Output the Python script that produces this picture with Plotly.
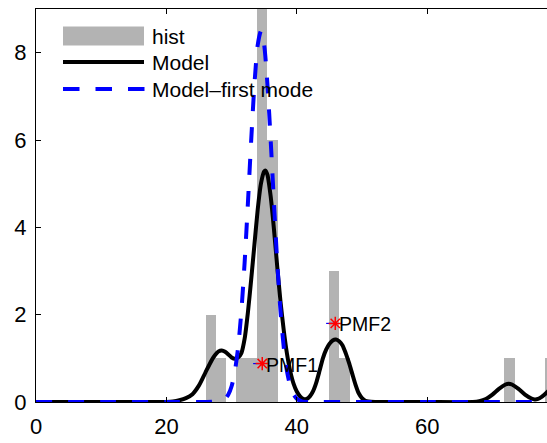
import plotly.graph_objects as go

# ---------------- data ----------------
hist_centers = [26.79, 28.37, 29.95, 31.53, 33.11, 34.69, 36.27, 45.75, 47.33, 72.61, 78.93]
hist_counts = [2, 1, 0, 1, 1, 9, 6, 3, 1, 1, 1]
bin_width = 1.58

model_x = [0, 10, 20, 21, 22, 23, 24, 25, 26, 27, 27.5, 28, 28.5, 29, 29.5, 30, 30.5, 31, 31.5,
           32, 32.5, 33, 33.5, 34, 34.5, 35, 35.2, 35.5, 36, 36.5, 37, 37.5, 38, 38.5, 39, 39.5,
           40, 40.5, 41, 41.5, 42, 42.5, 43, 43.5, 44, 44.5, 45, 45.5, 46, 46.5, 47, 47.5, 48,
           48.5, 49, 49.5, 50, 50.5, 51, 52, 60, 67, 68, 69, 70, 71, 72, 72.5, 73, 74, 75, 76,
           76.5, 77, 77.5, 78, 78.5, 79]
model_y = [0, 0, 0, 0.01, 0.04, 0.09, 0.18, 0.38, 0.68, 0.97, 1.08, 1.16, 1.18, 1.15, 1.09, 1.02,
           0.99, 1.02, 1.12, 1.45, 2.05, 2.8, 3.6, 4.4, 5.0, 5.28, 5.3, 5.2, 4.7, 3.95, 3.1, 2.3,
           1.64, 1.1, 0.7, 0.42, 0.24, 0.13, 0.07, 0.07, 0.13, 0.25, 0.45, 0.72, 1.0, 1.2, 1.33,
           1.41, 1.43, 1.39, 1.3, 1.12, 0.9, 0.65, 0.4, 0.2, 0.09, 0.03, 0.01, 0, 0, 0, 0.02,
           0.07, 0.17, 0.3, 0.4, 0.42, 0.4, 0.3, 0.17, 0.08, 0.06, 0.07, 0.11, 0.17, 0.24, 0.3]

first_x = [0, 10, 20, 27, 28, 29, 29.5, 30, 30.5, 31, 31.5, 32, 32.5, 33, 33.5, 34, 34.5, 35,
           35.5, 36, 36.5, 37, 37.5, 38, 38.5, 39, 39.5, 40, 40.5, 41, 42, 50, 60, 70, 79]
first_y = [0, 0, 0, 0.004, 0.03, 0.075, 0.17, 0.36, 0.7, 1.25, 2.08, 3.2, 4.55, 5.98, 7.27,
           8.17, 8.5, 8.17, 7.27, 5.98, 4.55, 3.2, 2.08, 1.25, 0.7, 0.36, 0.17, 0.075, 0.03,
           0.004, 0, 0, 0, 0, 0]

pmf_x = [34.7, 45.9]
pmf_y = [0.88, 1.8]
pmf_labels = ["PMF1", "PMF2"]

x_ticks = [0, 20, 40, 60]
y_ticks = [0, 2, 4, 6, 8]

legend_labels = ["hist", "Model", "Model\u2013first mode"]

GRAY = "#b3b3b3"
FONT = "Liberation Sans, Arial, Helvetica, sans-serif"

fig = go.Figure()
fig.add_trace(go.Bar(x=hist_centers, y=hist_counts, width=bin_width, name=legend_labels[0],
                     marker=dict(color=GRAY, line=dict(width=0)), showlegend=False))
fig.add_trace(go.Scatter(x=model_x, y=model_y, mode="lines", name=legend_labels[1],
                         line=dict(color="black", width=4, shape="spline", smoothing=0.6),
                         showlegend=False))
fig.add_trace(go.Scatter(x=first_x, y=first_y, mode="lines", name=legend_labels[2],
                         line=dict(color="#0000ff", width=4, dash="16px,16px", shape="spline",
                                   smoothing=0.6),
                         showlegend=False))
# small blue ticks left of each PMF star
for px_, py_ in zip(pmf_x, pmf_y):
    fig.add_trace(go.Scatter(x=[px_ - 1.4, px_], y=[py_, py_], mode="lines",
                             line=dict(color="#0000ff", width=1.2), showlegend=False,
                             hoverinfo="skip"))
fig.add_trace(go.Scatter(x=pmf_x, y=pmf_y, mode="markers", name="PMF",
                         marker=dict(symbol="asterisk-open", size=11, color="#ff0000",
                                     line=dict(color="#ff0000", width=1.5)),
                         showlegend=False))
for px_, py_, lab in zip(pmf_x, pmf_y, pmf_labels):
    fig.add_annotation(x=px_, y=py_, xref="x", yref="y", text=lab, showarrow=False,
                       xanchor="left", yanchor="middle", xshift=2, yshift=-1,
                       font=dict(family=FONT, size=19.5, color="black"))

# ---------------- manual legend (pixel layout converted to paper coords) ----------------
L, T, W, H = 36, 9, 511, 393
def px(x):
    return (x - L) / W
def py(y):
    return 1 - (y - T) / H

fig.add_shape(type="rect", xref="paper", yref="paper", x0=px(63), x1=px(144), y0=py(45.5),
              y1=py(26.5), fillcolor=GRAY, line=dict(width=0), layer="above")
fig.add_shape(type="line", xref="paper", yref="paper", x0=px(63), x1=px(144), y0=py(62),
              y1=py(62), line=dict(color="black", width=4), layer="above")
fig.add_shape(type="line", xref="paper", yref="paper", x0=px(63), x1=px(144.5), y0=py(89),
              y1=py(89), line=dict(color="#0000ff", width=4, dash="16.5px,16px"), layer="above")
for lab, yy in zip(legend_labels, [36, 62, 89]):
    fig.add_annotation(xref="paper", yref="paper", x=px(150), y=py(yy), text=lab,
                       showarrow=False, xanchor="left", yanchor="middle",
                       font=dict(family=FONT, size=21, color="black"))

fig.update_layout(
    width=547, height=443,
    margin=dict(l=L, r=0, t=T, b=41, autoexpand=False),
    paper_bgcolor="white", plot_bgcolor="white",
    font=dict(family=FONT, size=22, color="black"),
    bargap=0, showlegend=False,
)
fig.update_xaxes(range=[0, (547 - L) / 6.52], tickvals=x_ticks, ticks="inside", ticklen=5,
                 tickwidth=1, tickcolor="black", showline=True, linecolor="black", linewidth=1,
                 mirror="ticks", showgrid=False, zeroline=False, tickfont=dict(size=22),
                 ticklabelstandoff=5)
fig.update_yaxes(range=[0, 9], tickvals=y_ticks, ticks="inside", ticklen=5, tickwidth=1,
                 tickcolor="black", showline=True, linecolor="black", linewidth=1,
                 showgrid=False, zeroline=False, tickfont=dict(size=22), ticklabelstandoff=4)

fig.write_html("out.html", config={"displayModeBar": False},
               post_script="document.body.style.margin='0px';document.body.style.overflow='hidden';")
